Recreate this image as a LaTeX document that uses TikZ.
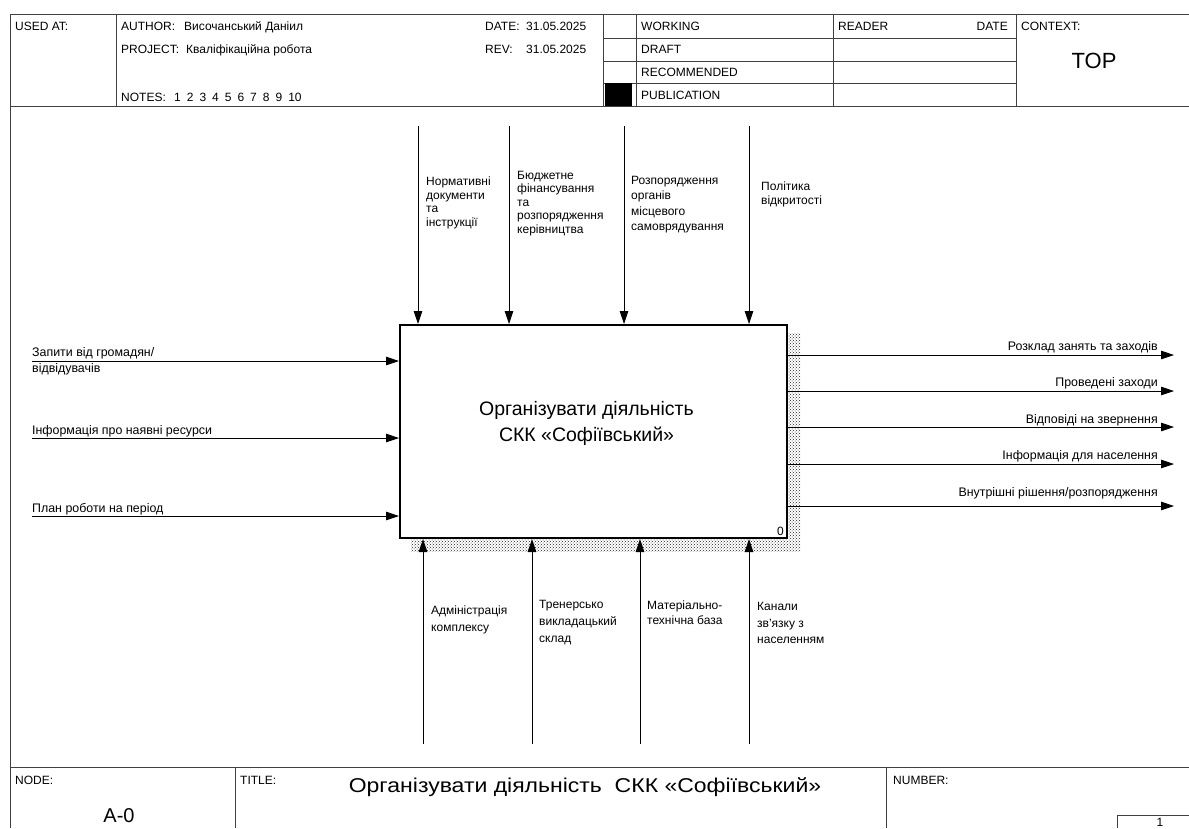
\documentclass[tikz,border=0pt]{standalone}
\usepackage{fontspec}
\setmainfont{Liberation Sans}
\usepackage{tikz}
\usetikzlibrary{patterns, arrows.meta}

\begin{document}
\begin{tikzpicture}[x=1pt, y=-1pt,
    frame/.style={draw=black!75, line width=0.9pt},
    hdr/.style={anchor=base west, inner sep=0pt, font=\fontsize{12}{14}\selectfont},
    lbl/.style={anchor=north west, inner sep=0pt, align=left, font=\fontsize{12}{14}\selectfont},
    outlbl/.style={anchor=base east, inner sep=0pt, font=\fontsize{12.4}{14}\selectfont},
    inlbl/.style={anchor=base west, inner sep=0pt, font=\fontsize{12.4}{14}\selectfont},
    flow/.style={draw, line width=0.8pt, -{Triangle[length=13pt, width=8.5pt]}}]
    \useasboundingbox (0,0) rectangle (1189,828);

    % form frame
    \draw[frame] (1189,14) -- (10,14) -- (10,828);
    \draw[frame] (10,106) -- (1189,106);
    \draw[frame] (10,767) -- (1189,767);
    \draw[frame] (116,14) -- (116,106);
    \draw[frame] (603,14) -- (603,106);
    \draw[frame] (636,14) -- (636,106);
    \draw[frame] (833,14) -- (833,106);
    \draw[frame] (1016,14) -- (1016,106);
    \foreach \y in {38,61,83}
        \draw[frame] (603,\y) -- (1016,\y);
    \fill (605,83) rectangle (632,106);
    \draw[frame] (235,767) -- (235,828);
    \draw[frame] (886,767) -- (886,828);
    \draw[frame] (1117,828) -- (1117,815) -- (1189,815);

    % header
    \node[hdr] (usedat) at (15,30) {USED AT:};
    \node[hdr] (author) at (121,30) {\makebox[63pt][l]{AUTHOR:}Височанський Даніил};
    \node[hdr] (project) at (121,53) {\makebox[65pt][l]{PROJECT:}Кваліфікаційна робота};
    \node[hdr] (notes) at (121,101) {\makebox[53pt][l]{NOTES:}1\hspace{6pt}2\hspace{6pt}3\hspace{6pt}4\hspace{6pt}5\hspace{6pt}6\hspace{6pt}7\hspace{6pt}8\hspace{6pt}9\hspace{6pt}10};
    \node[hdr] (date) at (485,30) {\makebox[41pt][l]{DATE:}31.05.2025};
    \node[hdr] (rev) at (485,53) {\makebox[41pt][l]{REV:}31.05.2025};
    \node[hdr] (working) at (641,30) {WORKING};
    \node[hdr] (draft) at (641,53.5) {DRAFT};
    \node[hdr] (recommended) at (641,76.5) {RECOMMENDED};
    \node[hdr] (publication) at (641,99) {PUBLICATION};
    \node[hdr] (reader) at (838,30) {READER};
    \node[hdr, anchor=base east] (readerdate) at (1008,30) {DATE};
    \node[hdr] (context) at (1021,30) {CONTEXT:};
    \node[inner sep=0pt, font=\fontsize{22}{24}\selectfont] (top) at (1094,61) {TOP};

    % activity box
    \fill[pattern=crosshatch dots, pattern color=black!85] (411,333) rectangle (800,551);
    \node[draw, line width=2pt, fill=white, minimum width=387pt, minimum height=213pt,
        inner sep=0pt] (act) at (593.5,431.5) {};
    \node[align=center, inner sep=0pt, font=\fontsize{19.5}{26}\selectfont] (acttext) at (586.5,423)
        {Організувати діяльність\\СКК «Софіївський»};
    \node[anchor=base east, inner sep=0pt, font=\fontsize{12}{14}\selectfont] (actnum) at (784,535) {0};

    % controls
    \coordinate (ctl1) at (418,126);
    \coordinate (ctl2) at (509,126);
    \coordinate (ctl3) at (624,126);
    \coordinate (ctl4) at (749,126);
    \foreach \c in {ctl1,ctl2,ctl3,ctl4}
        \draw[flow] (\c) -- (\c |- act.north);
    \node[lbl, font=\fontsize{12}{13.5}\selectfont] (ctl1lbl) at (426,177) {Нормативні\\документи\\та\\інструкції};
    \node[lbl, font=\fontsize{12}{13.5}\selectfont] (ctl2lbl) at (517,171) {Бюджетне\\фінансування\\та\\розпорядження\\керівництва};
    \node[lbl, font=\fontsize{12}{15.3}\selectfont] (ctl3lbl) at (631,176) {Розпорядження\\органів\\місцевого\\самоврядування};
    \node[lbl] (ctl4lbl) at (761,181.5) {Політика\\відкритості};

    % inputs
    \coordinate (in1) at (32,361);
    \coordinate (in2) at (32,438);
    \coordinate (in3) at (32,516);
    \foreach \c in {in1,in2,in3}
        \draw[flow] (\c) -- (\c -| act.west);
    \node[lbl, font=\fontsize{12.4}{16.3}\selectfont] (in1lbl) at (32,347) {Запити від громадян/\\відвідувачів};
    \node[inlbl] (in2lbl) at (32,434) {Інформація про наявні ресурси};
    \node[inlbl] (in3lbl) at (32,512) {План роботи на період};

    % outputs
    \coordinate (out1) at (1174,355);
    \coordinate (out2) at (1174,391);
    \coordinate (out3) at (1174,427);
    \coordinate (out4) at (1174,464);
    \coordinate (out5) at (1174,506);
    \foreach \c in {out1,out2,out3,out4,out5}
        \draw[flow] (\c -| act.east) -- (\c);
    \node[outlbl] (out1lbl) at (1158,350) {Розклад занять та заходів};
    \node[outlbl] (out2lbl) at (1158,386.5) {Проведені заходи};
    \node[outlbl] (out3lbl) at (1158,423) {Відповіді на звернення};
    \node[outlbl] (out4lbl) at (1158,459) {Інформація для населення};
    \node[outlbl] (out5lbl) at (1158,496) {Внутрішні рішення/розпорядження};

    % mechanisms
    \coordinate (mec1) at (423,744);
    \coordinate (mec2) at (532,744);
    \coordinate (mec3) at (640,744);
    \coordinate (mec4) at (749,744);
    \foreach \c in {mec1,mec2,mec3,mec4}
        \draw[flow] (\c) -- (\c |- act.south);
    \node[lbl, font=\fontsize{12}{16.7}\selectfont] (mec1lbl) at (431,605.5) {Адміністрація\\комплексу};
    \node[lbl, font=\fontsize{12}{16.7}\selectfont] (mec2lbl) at (539,600.5) {Тренерсько\\викладацький\\склад};
    \node[lbl, font=\fontsize{12}{15}\selectfont] (mec3lbl) at (647,600.5) {Матеріально-\\технічна база};
    \node[lbl, font=\fontsize{12}{16.7}\selectfont] (mec4lbl) at (757,602) {Канали\\зв'язку з\\населенням};

    % footer
    \node[hdr] (nodelbl) at (15,784) {NODE:};
    \node[inner sep=0pt, font=\fontsize{20}{24}\selectfont] (nodeid) at (119,816) {A-0};
    \node[hdr] (titlelbl) at (240,784) {TITLE:};
    \node[inner sep=0pt, font=\fontsize{20}{24}\selectfont] (title) at (585,787)
        {\scalebox{1.15}[1]{Організувати діяльність\ \ СКК «Софіївський»}};
    \node[hdr] (numberlbl) at (893,784) {NUMBER:};
    \node[inner sep=0pt, font=\fontsize{12}{14}\selectfont] (pagenum) at (1160,822) {1};
\end{tikzpicture}
\end{document}
